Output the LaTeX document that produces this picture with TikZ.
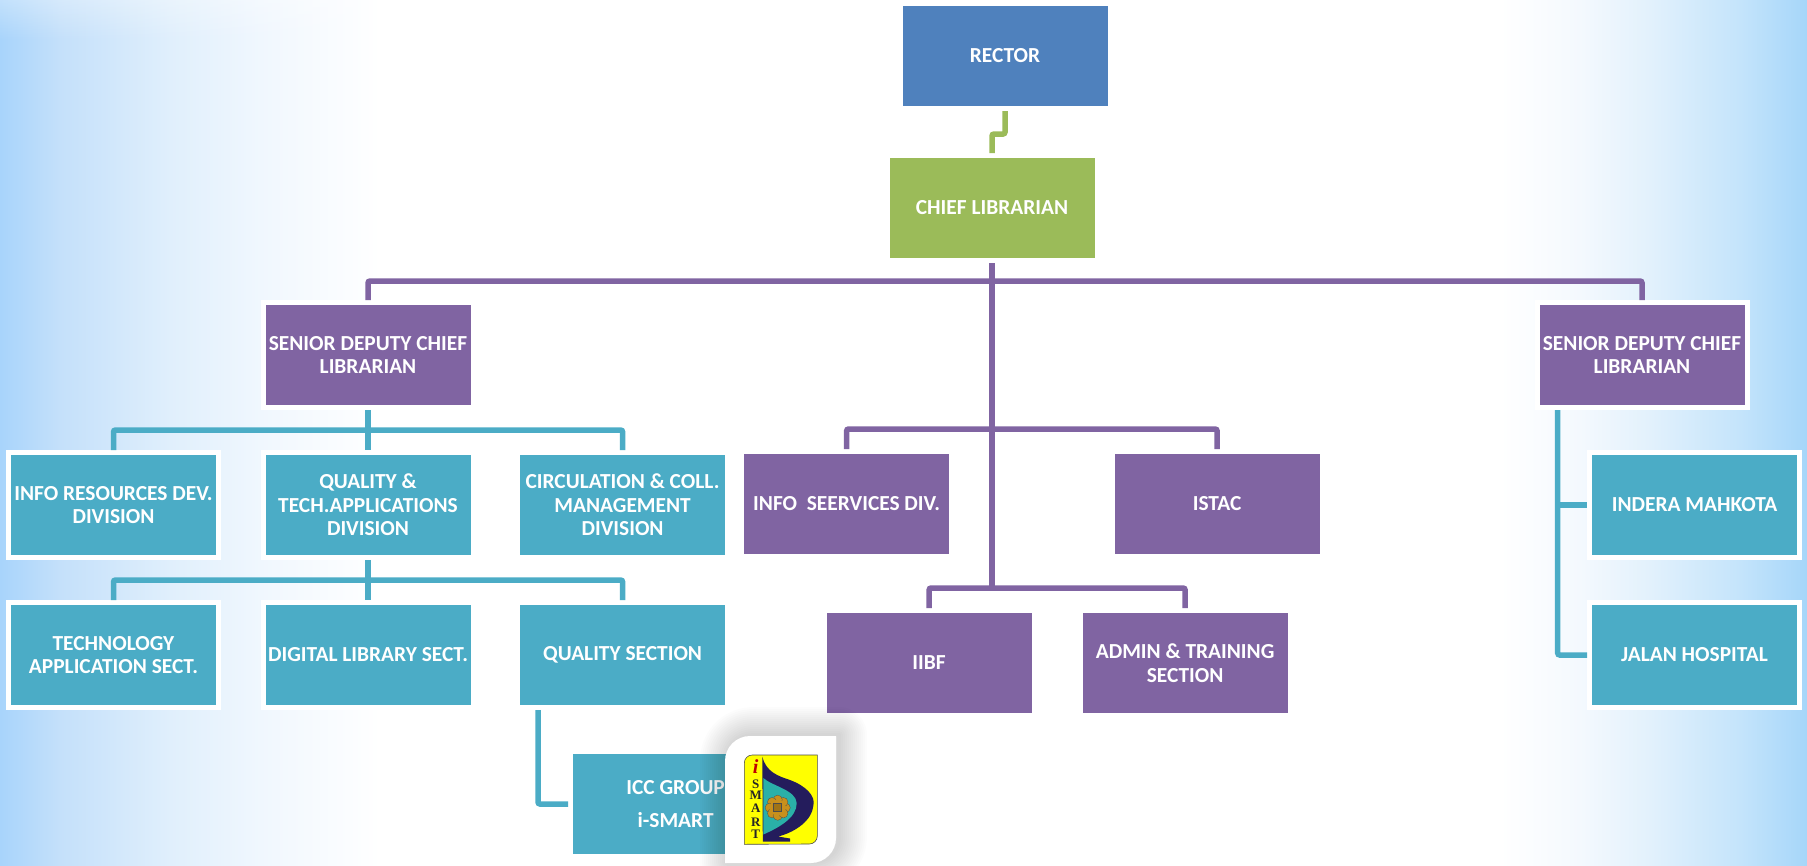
\documentclass[tikz,border=0pt]{standalone}
\usepackage{fontspec}
\setmainfont{Carlito}
\newfontfamily\logofont{Liberation Serif}
\usetikzlibrary{positioning, fadings}
\definecolor{rectorBlue}{HTML}{4F81BD}
\definecolor{chiefGreen}{HTML}{9BBB59}
\definecolor{deputyPurple}{HTML}{8064A2}
\definecolor{divTeal}{HTML}{4BACC6}
\definecolor{logoYellow}{HTML}{FFFF00}
\definecolor{logoNavy}{HTML}{241C5C}
\definecolor{logoTeal}{HTML}{2AB0A8}
\definecolor{logoGold}{HTML}{C8901C}
\tikzstyle{box} = [rectangle, draw=white, line width=5pt, minimum width=210pt, minimum height=105pt, inner sep=0pt, align=center, text=white, font=\fontsize{21.4}{23.5}\selectfont\bfseries]
\tikzstyle{rectorbox} = [box, fill=rectorBlue]
\tikzstyle{chiefbox} = [box, fill=chiefGreen]
\tikzstyle{deputybox} = [box, fill=deputyPurple]
\tikzstyle{divbox} = [box, fill=divTeal]
\tikzstyle{greenline} = [draw=chiefGreen, line width=5.5pt, rounded corners=2pt]
\tikzstyle{purpleline} = [draw=deputyPurple, line width=5.5pt, rounded corners=2pt]
\tikzstyle{tealline} = [draw=divTeal, line width=5.5pt, rounded corners=2pt]
\tikzstyle{logoletter} = [inner sep=0pt, text=black!85, font=\logofont\fontsize{13}{13}\selectfont\bfseries]
\newcommand\cardpath{(725,-863) -- (725,-761) arc[start angle=180, end angle=90, radius=25] -- (836,-736) -- (836,-838) arc[start angle=0, end angle=-90, radius=25] -- cycle}

\begin{document}
\begin{tikzpicture}[x=1pt, y=1pt, node distance=150pt]
\useasboundingbox (0,0) rectangle (1807,-865);

% Background
\fill [left color={rgb,255:red,168;green,212;blue,251}, right color={rgb,255:red,196;green,224;blue,250}] (0,0) rectangle (60,-865);
\fill [left color={rgb,255:red,196;green,224;blue,250}, right color={rgb,255:red,224;green,239;blue,252}] (60,0) rectangle (170,-865);
\fill [left color={rgb,255:red,224;green,239;blue,252}, right color={rgb,255:red,240;green,247;blue,254}] (170,0) rectangle (260,-865);
\fill [left color={rgb,255:red,240;green,247;blue,254}, right color=white] (260,0) rectangle (380,-865);
\fill [left color=white, right color={rgb,255:red,244;green,249;blue,254}] (1500,0) rectangle (1580,-865);
\fill [left color={rgb,255:red,244;green,249;blue,254}, right color={rgb,255:red,226;green,241;blue,252}] (1580,0) rectangle (1650,-865);
\fill [left color={rgb,255:red,226;green,241;blue,252}, right color={rgb,255:red,196;green,228;blue,251}] (1650,0) rectangle (1740,-865);
\fill [left color={rgb,255:red,196;green,228;blue,251}, right color={rgb,255:red,166;green,214;blue,249}] (1740,0) rectangle (1807,-865);
\fill [white, fill opacity=.3, path fading=south] (0,0) rectangle (380,-40);

% Placement of nodes
\node (rector) [rectorbox] at (1005,-56) {RECTOR};
\node (chief) [chiefbox, below of=rector, xshift=-13pt, yshift=-2pt] {CHIEF LIBRARIAN};
\node (deputyLeft) [deputybox, below of=chief, xshift=-624pt, yshift=3pt] {SENIOR DEPUTY CHIEF\\LIBRARIAN};
\node (deputyRight) [deputybox, below of=chief, xshift=650pt, yshift=3pt] {SENIOR DEPUTY CHIEF\\LIBRARIAN};

\node (qualDiv) [divbox, below of=deputyLeft] {QUALITY \&\\TECH.APPLICATIONS\\DIVISION};
\node (infoDiv) [divbox, left of=qualDiv, xshift=-104.5pt] {INFO RESOURCES DEV.\\DIVISION};
\node (circDiv) [divbox, right of=qualDiv, xshift=104.6pt] {CIRCULATION \& COLL.\\MANAGEMENT\\DIVISION};

\node (digSect) [divbox, below of=qualDiv] {DIGITAL LIBRARY SECT.};
\node (techSect) [divbox, left of=digSect, xshift=-104.5pt] {TECHNOLOGY\\APPLICATION SECT.};
\node (qualSect) [divbox, right of=digSect, xshift=104.6pt] {QUALITY SECTION};
\node (iccGroup) [divbox, below of=qualSect, xshift=53pt, yshift=1pt] {ICC GROUP\\[9pt]i-SMART};

\node (infoServ) [deputybox, right of=circDiv, xshift=74pt, yshift=1pt] {INFO\ \ SEERVICES DIV.};
\node (istac) [deputybox, right of=infoServ, xshift=220.5pt] {ISTAC};
\node (iibf) [deputybox, below of=infoServ, xshift=82.5pt, yshift=-9pt] {IIBF};
\node (adminSect) [deputybox, right of=iibf, xshift=106pt] {ADMIN \& TRAINING\\SECTION};

\node (indera) [divbox, below of=deputyRight, xshift=52.5pt] {INDERA MAHKOTA};
\node (jalan) [divbox, below of=indera] {JALAN HOSPITAL};

% Placement of edges
\draw [greenline] (rector.south) -- ++(0,-23) -| (chief.north);

\coordinate (mainBus) at ([yshift=-18pt] chief.south);
\path (iibf.north -| chief.south) ++(0,20) coordinate (lowBus);
\draw [purpleline] (chief.south) -- (lowBus);
\draw [purpleline] (deputyLeft.north) |- (mainBus) -| (deputyRight.north);
\draw [purpleline] (infoServ.north) -- ++(0,20) -| (istac.north);
\draw [purpleline] (iibf.north) -- ++(0,20) -| (adminSect.north);

% left branch
\draw [tealline] (deputyLeft.south) -- (qualDiv.north);
\draw [tealline] (infoDiv.north) -- ++(0,20) -| (circDiv.north);
\draw [tealline] (qualDiv.south) -- (digSect.north);
\draw [tealline] (techSect.north) -- ++(0,20) -| (qualSect.north);
\coordinate (qualTap) at ([xshift=-84.6pt] qualSect.south);
\draw [tealline] (qualTap) |- (iccGroup.west);

% right branch
\coordinate (rightTrunk) at ([xshift=-84.3pt] deputyRight.south);
\draw [tealline] (rightTrunk) |- (jalan.west);
\draw [tealline] (rightTrunk |- indera.west) -- (indera.west);

% Logo card
\foreach \grow in {4,8,...,56}
	\draw [black, draw opacity=.012, line width=\grow pt, line join=round, xshift=3pt, yshift=1pt] \cardpath;
\fill [white] \cardpath;
\draw [black!70, fill=logoYellow, line width=.6pt] (744.3,-844.3) -- (744.3,-763) arc[start angle=180, end angle=90, radius=8] -- (817.3,-755) -- (817.3,-836) arc[start angle=0, end angle=-90, radius=8] -- cycle;
\fill [logoNavy] (762.3,-756.5) .. controls (766,-772) and (778,-776) .. (790,-780) .. controls (806,-786) and (816,-796) .. (813.3,-806) .. controls (812,-820) and (796,-832) .. (778,-836.5) -- (790,-838.5) -- (790,-841.5) -- (762.8,-841.5) -- cycle;
\fill [logoTeal] (763.3,-778) .. controls (772,-786) and (796,-790) .. (796.7,-803) .. controls (797,-818) and (778,-828) .. (763.3,-834.5) -- cycle;
\foreach \ang in {0,45,...,315}
	\fill [logoGold, draw=black!70, line width=.3pt] (777.7,-807.7) ++(\ang:8) circle [radius=4.6];
\fill [logoGold] (777.7,-807.7) circle [radius=8];
\draw [black!70, fill=logoGold!80!black, line width=.5pt] (773.7,-811.7) rectangle (781.7,-803.7);
\node (logoI) [logoletter, text=red!75!black, font=\logofont\fontsize{20}{20}\selectfont\bfseries\itshape] at (755.7,-766.5) {i};
\foreach \ltr/\ypos in {S/784.3, M/795.5, A/808.5, R/822, T/834.5}
	\node (logo\ltr) [logoletter] at (755.7,-\ypos) {\ltr};

\end{tikzpicture}
\end{document}
